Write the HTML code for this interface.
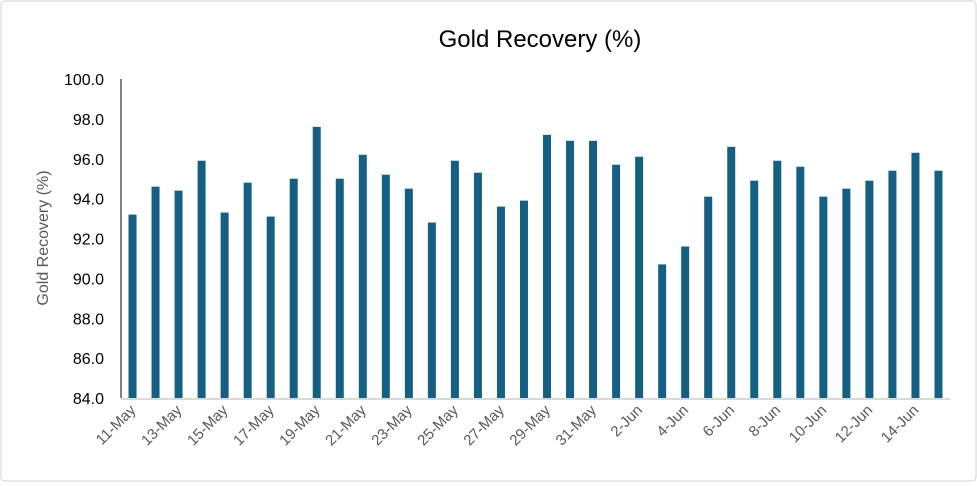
<!DOCTYPE html>
<html><head><meta charset="utf-8"><style>
body{margin:0;background:#fff;font-family:"Liberation Sans",sans-serif}
</style></head><body>
<svg width="977" height="482" xmlns="http://www.w3.org/2000/svg">
<rect x="1" y="1" width="975" height="480" rx="4" fill="#fff" stroke="#d0d0d0"/>
<text x="540" y="47" text-anchor="middle" font-size="24" fill="#000">Gold Recovery (%)</text>
<text transform="translate(48,238) rotate(-90)" text-anchor="middle" font-size="16" fill="#595959">Gold Recovery (%)</text>
<g id="plot"></g>
</svg>
<script>
const categories=["11-May","12-May","13-May","14-May","15-May","16-May","17-May","18-May","19-May","20-May","21-May","22-May","23-May","24-May","25-May","26-May","27-May","28-May","29-May","30-May","31-May","1-Jun","2-Jun","3-Jun","4-Jun","5-Jun","6-Jun","7-Jun","8-Jun","9-Jun","10-Jun","11-Jun","12-Jun","13-Jun","14-Jun","15-Jun"];
const values=[93.2,94.6,94.4,95.9,93.3,94.8,93.1,95.0,97.6,95.0,96.2,95.2,94.5,92.8,95.9,95.3,93.6,93.9,97.2,96.9,96.9,95.7,96.1,90.7,91.6,94.1,96.6,94.9,95.9,95.6,94.1,94.5,94.9,95.4,96.3,95.4];
const yTicks=[84,86,88,90,92,94,96,98,100];
const NS="http://www.w3.org/2000/svg";
const g=document.getElementById('plot');
const x0=121,x1=950,yMin=84,yMax=100,yB=398,yT=79;
const y=v=>yB-(v-yMin)/(yMax-yMin)*(yB-yT);
const step=(x1-x0)/categories.length;
const xc=i=>x0+step*(i+0.5);
function mk(t,a){const e=document.createElementNS(NS,t);for(const k in a)e.setAttribute(k,a[k]);g.appendChild(e);return e;}
yTicks.forEach(v=>{
 const t=mk('text',{x:104,y:y(v)+6,'text-anchor':'end','font-size':16,fill:'#000'});
 t.textContent=v.toFixed(1);
 
 
});
values.forEach((v,i)=>{
 const r=mk('rect',{x:xc(i)-4,y:y(v),width:8,height:yB-y(v),fill:'#156082'});
 
 
});
categories.forEach((c,i)=>{
 if(i%2)return;
 const t=mk('text',{transform:`translate(${xc(i)+4},${yB+13}) rotate(-45)`,'text-anchor':'end','font-size':15,fill:'#595959'});
 t.textContent=c;
 
 
});
const base=mk('line',{x1:x0,y1:yB+1,x2:x1,y2:yB+1,stroke:'#d9d9d9','stroke-width':2});


const ax=mk('line',{x1:x0,y1:yT,x2:x0,y2:yB,stroke:'#000','stroke-width':1});


</script>
</body></html>
